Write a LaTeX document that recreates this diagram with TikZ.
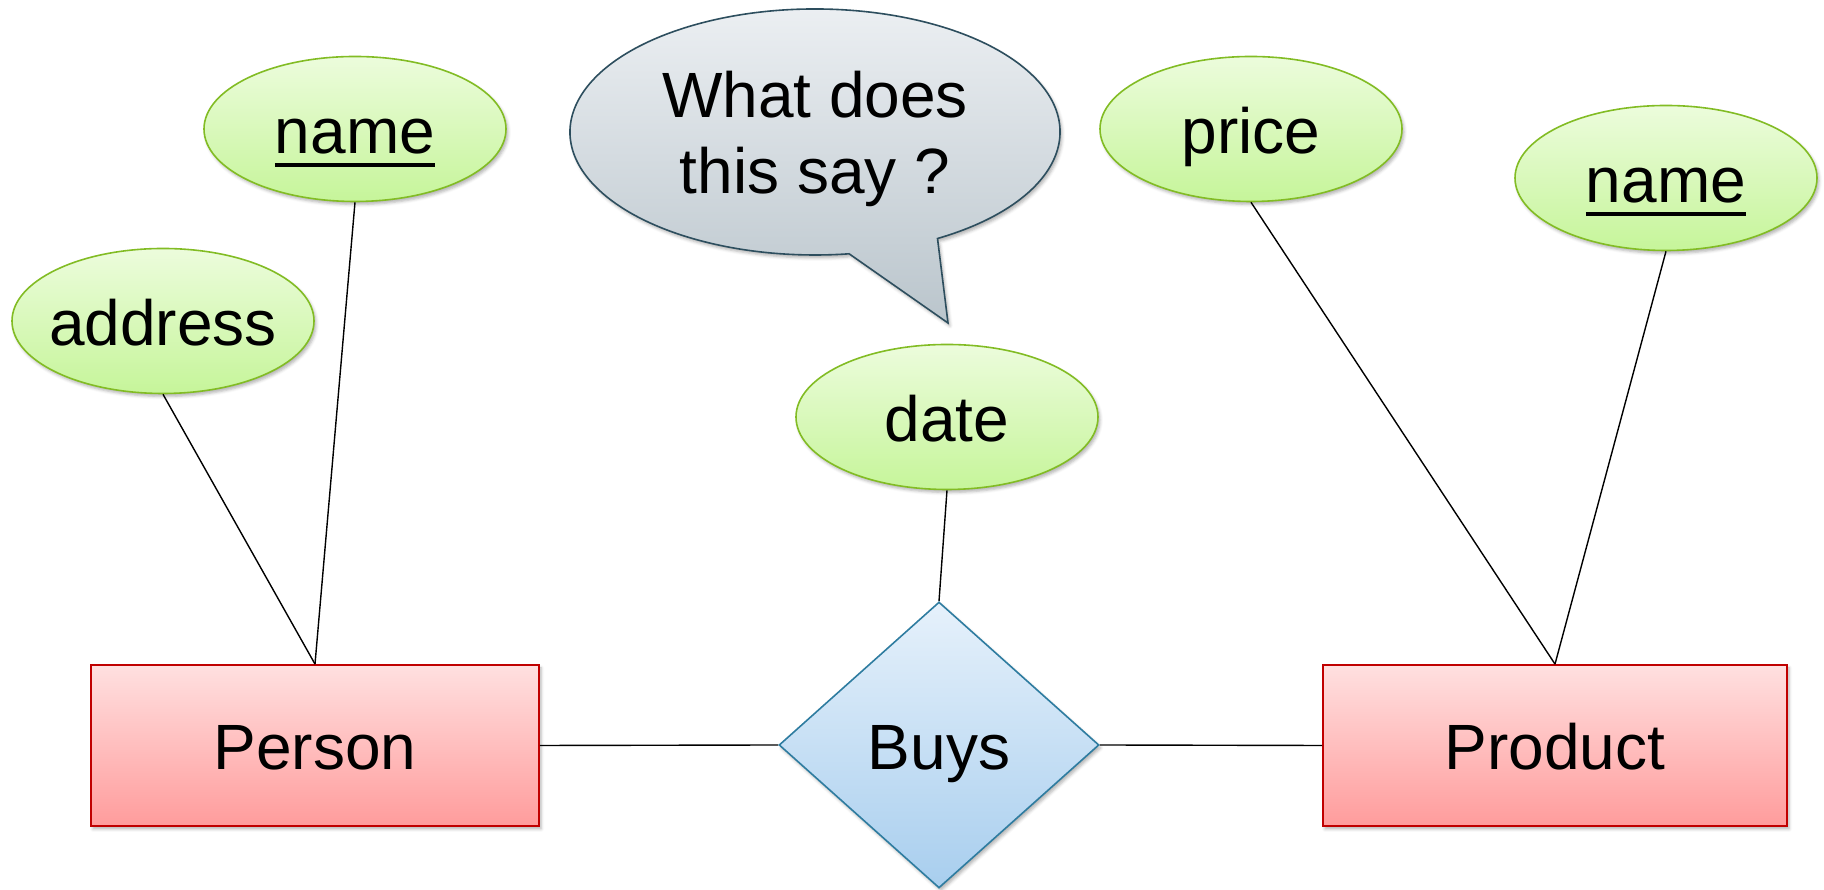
\documentclass[tikz,border=0pt]{standalone}
\usepackage{fontspec}
\setmainfont{Liberation Sans}
\usetikzlibrary{shapes.geometric,shadows.blur}

% underlined key attribute
\newcommand{\keyattr}[1]{\setbox0\hbox{#1}\rlap{\rule[-14pt]{\wd0}{4pt}}\box0}

\definecolor{attrtop}{HTML}{ECFCDC}
\definecolor{attrbot}{HTML}{C6F59A}
\definecolor{attrline}{HTML}{82BC24}
\definecolor{enttop}{HTML}{FFE0E0}
\definecolor{entbot}{HTML}{FF9C9C}
\definecolor{entline}{HTML}{C00000}
\definecolor{reltop}{HTML}{E6F1FB}
\definecolor{relbot}{HTML}{A8CEEE}
\definecolor{relline}{HTML}{2E7CA0}
\definecolor{bubtop}{HTML}{EEF1F4}
\definecolor{bubbot}{HTML}{BAC5CC}
\definecolor{bubline}{HTML}{2D4E5E}

\tikzset{
  softshadow/.style={blur shadow={shadow xshift=2pt,shadow yshift=-3pt,shadow blur radius=3pt,shadow opacity=30}},
  linebox/.style={text height=62pt,text depth=13pt},
  attr/.style={ellipse,draw=attrline,line width=1.6pt,top color=attrtop,bottom color=attrbot,
    minimum width=302pt,minimum height=145pt,inner ysep=0pt,inner xsep=-12pt,linebox,softshadow},
  entity/.style={rectangle,draw=entline,line width=1.8pt,top color=enttop,bottom color=entbot,
    minimum height=161pt,inner sep=0pt,linebox,softshadow},
  relation/.style={diamond,draw=relline,line width=1.6pt,top color=reltop,bottom color=relbot,
    minimum width=320pt,minimum height=286pt,inner sep=0pt,linebox,softshadow},
  link/.style={black,line width=1.4pt},
}

\begin{document}
\begin{tikzpicture}[x=1pt,y=1pt,font=\fontsize{64}{76}\selectfont]
\useasboundingbox (0,0) rectangle (1824,890);

% speech bubble
\draw[bubline,line width=1.6pt,top color=bubtop,bottom color=bubbot,softshadow]
  (815,758) ++(-60:245 and 123)
  arc[start angle=-60,end angle=278,x radius=245,y radius=123]
  -- (948,567) -- cycle;
\node[align=center] (question) at (815,751) {What does\\this say ?};

% attributes
\node[attr] (pname)   at (355,761)  {\keyattr{name}};
\node[attr] (address) at (163,569)  {address};
\node[attr] (date)    at (947,473)  {date};
\node[attr] (price)   at (1251,761) {price};
\node[attr] (rname)   at (1666,712) {\keyattr{name}};

% entities and relationship
\node[entity,minimum width=448pt] (person)  at (315,144.5)  {Person};
\node[entity,minimum width=464pt] (product) at (1555,144.5) {Product};
\node[relation] (buys) at (939,145) {Buys};

% connectors
\draw[link] (address.south) -- (person.north);
\draw[link] (pname.south)   -- (person.north);
\draw[link] (date.south)    -- (buys.north);
\draw[link] (price.south)   -- (product.north);
\draw[link] (rname.south)   -- (product.north);
\draw[link] (person.east)   -- (buys.west);
\draw[link] (buys.east)     -- (product.west);
\end{tikzpicture}
\end{document}
